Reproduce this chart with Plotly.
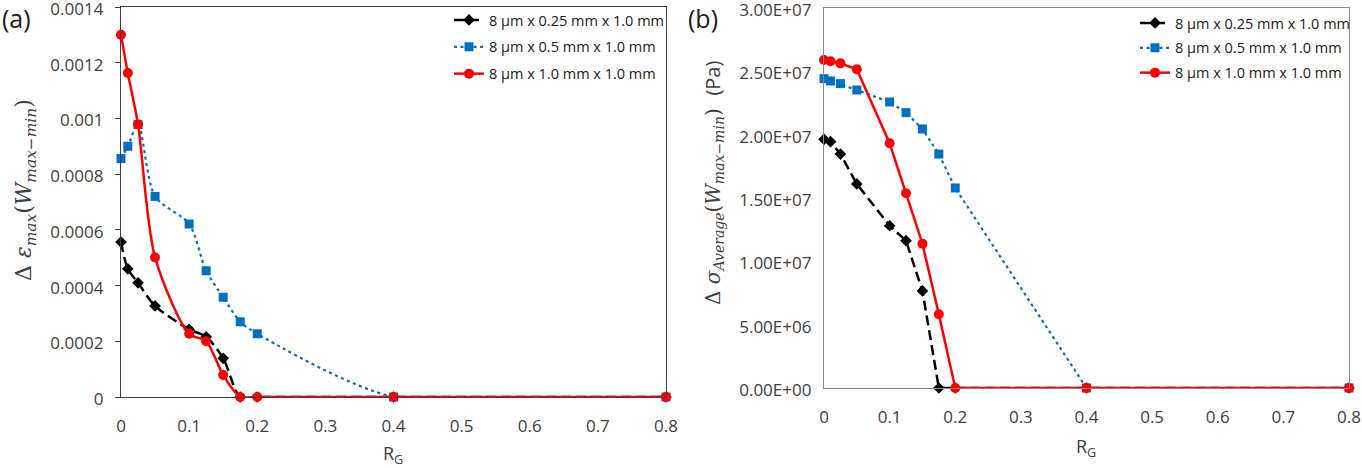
import plotly.graph_objects as go

# ---------------- data ----------------
rg = [0, 0.01, 0.025, 0.05, 0.1, 0.125, 0.15, 0.175, 0.2, 0.4, 0.8]

series_names = ["8 µm x 0.25 mm x 1.0 mm", "8 µm x 0.5 mm x 1.0 mm", "8 µm x 1.0 mm x 1.0 mm"]

# panel (a): delta strain max
eps_025 = [0.000556, 0.00046, 0.00041, 0.000327, 0.000243, 0.000216, 0.000139, 0.0, 0.0, 0.0, 0.0]
eps_05 = [0.000856, 0.0009, 0.000978, 0.00072, 0.000621, 0.000453, 0.000358, 0.00027, 0.000227, 0.0, 0.0]
eps_10 = [0.0013, 0.001163, 0.000978, 0.000501, 0.000227, 0.0002, 0.000079, 0.0, 0.0, 0.0, 0.0]

# panel (b): delta average stress (Pa)
sig_025 = [1.963e7, 1.945e7, 1.847e7, 1.611e7, 1.281e7, 1.163e7, 7.66e6, 0.0, 0.0, 0.0, 0.0]
sig_05 = [2.442e7, 2.424e7, 2.403e7, 2.353e7, 2.258e7, 2.174e7, 2.045e7, 1.847e7, 1.579e7, 0.0, 0.0]
sig_10 = [2.589e7, 2.579e7, 2.563e7, 2.516e7, 1.932e7, 1.537e7, 1.139e7, 5.82e6, 0.0, 0.0, 0.0]

x_ticks = [0, 0.1, 0.2, 0.3, 0.4, 0.5, 0.6, 0.7, 0.8]
x_ticklabels = ["0", "0.1", "0.2", "0.3", "0.4", "0.5", "0.6", "0.7", "0.8"]
ya_ticks = [0, 0.0002, 0.0004, 0.0006, 0.0008, 0.001, 0.0012, 0.0014]
ya_ticklabels = ["0", "0.0002", "0.0004", "0.0006", "0.0008", "0.001", "0.0012", "0.0014"]
yb_ticks = [0, 5e6, 1e7, 1.5e7, 2e7, 2.5e7, 3e7]
yb_ticklabels = ["0.00E+00", "5.00E+06", "1.00E+07", "1.50E+07", "2.00E+07", "2.50E+07", "3.00E+07"]

# ---------------- styles ----------------
colors = ["#000000", "#0070C0", "#FF0000"]
dashes = ["10px,5px", "3px,3.5px", "solid"]
symbols = ["diamond", "square", "circle"]
msizes = [9, 9, 10]
lwidths = [2.5, 2.2, 2.5]
FONT = "Open Sans"

fig = go.Figure()

for i, ys in enumerate([eps_025, eps_05, eps_10]):
    fig.add_trace(go.Scatter(
        x=rg, y=ys, name=series_names[i], mode="lines+markers", legendgroup="a%d" % i,
        line=dict(color=colors[i], dash=dashes[i], width=lwidths[i], shape="spline", smoothing=0.8),
        marker=dict(symbol=symbols[i], size=msizes[i], color=colors[i]),
        xaxis="x", yaxis="y", legend="legend", cliponaxis=False))

for i, ys in enumerate([sig_025, sig_05, sig_10]):
    fig.add_trace(go.Scatter(
        x=rg, y=ys, name=series_names[i], mode="lines+markers", legendgroup="b%d" % i,
        line=dict(color=colors[i], dash=dashes[i], width=lwidths[i]),
        marker=dict(symbol=symbols[i], size=msizes[i], color=colors[i]),
        xaxis="x2", yaxis="y2", legend="legend2", cliponaxis=False))

H = 468.0
W = 1362.0
ax_common = dict(showgrid=False, zeroline=False, mirror=True, showline=True, automargin=False,
                 ticklabeloverflow="allow",
                 tickfont=dict(family=FONT, size=17, color="#404040"))

fig.update_layout(
    width=1362, height=468,
    margin=dict(l=0, r=0, t=0, b=0, autoexpand=False),
    paper_bgcolor="white", plot_bgcolor="white",
    font=dict(family=FONT, color="#404040"),
    xaxis=dict(domain=[121 / W, 666 / W], range=[0, 0.8], tickvals=x_ticks, ticktext=x_ticklabels,
               linecolor="#404040", linewidth=1.3, ticks="", anchor="y", ticklabelstandoff=13, **ax_common),
    yaxis=dict(domain=[1 - 397 / H, 1 - 7 / H], range=[0, 0.0014], tickvals=ya_ticks, ticktext=ya_ticklabels,
               linecolor="#404040", linewidth=1.3, ticks="outside", ticklen=5, tickcolor="#404040",
               anchor="x", ticklabelstandoff=8, ticklabelshift=2, **ax_common),
    xaxis2=dict(domain=[824 / W, 1349 / W], range=[0, 0.8], tickvals=x_ticks, ticktext=x_ticklabels,
                linecolor="#8a8a8a", linewidth=1.3, ticks="", anchor="y2", ticklabelstandoff=13, **ax_common),
    yaxis2=dict(domain=[1 - 388 / H, 1 - 8 / H], range=[0, 3e7], tickvals=yb_ticks, ticktext=yb_ticklabels,
                linecolor="#8a8a8a", linewidth=1.3, ticks="", anchor="x2", ticklabelstandoff=8,
                ticklabelshift=2, **ax_common),
    legend=dict(x=449 / W, y=1 - 4 / H, xanchor="left", yanchor="top", bgcolor="rgba(0,0,0,0)",
                font=dict(family=FONT, size=14.5, color="#202020"), tracegroupgap=5, itemwidth=30),
    legend2=dict(x=1135 / W, y=1 - 7 / H, xanchor="left", yanchor="top", bgcolor="rgba(0,0,0,0)",
                 font=dict(family=FONT, size=14.5, color="#202020"), tracegroupgap=3, itemwidth=30),
    showlegend=True,
)

annotations = [
    dict(text="(a)", x=0 / W, y=1 - 18 / H, xanchor="left", yanchor="middle",
         font=dict(family=FONT, size=25, color="#202020")),
    dict(text="(b)", x=686 / W, y=1 - 18 / H, xanchor="left", yanchor="middle",
         font=dict(family=FONT, size=25, color="#202020")),
    dict(text="R<sub>G</sub>", x=393 / W, y=1 - 454 / H, xanchor="center", yanchor="middle",
         font=dict(family=FONT, size=18, color="#404040")),
    dict(text="R<sub>G</sub>", x=1086 / W, y=1 - 447 / H, xanchor="center", yanchor="middle",
         font=dict(family=FONT, size=18, color="#404040")),
    dict(text="Δ <i>ε</i><sub><i>max</i></sub>(<i>W</i><sub><i>max−min</i></sub>)",
         x=25 / W, y=1 - 190 / H, xanchor="center", yanchor="middle", textangle=-90,
         font=dict(family="DejaVu Serif", size=22, color="#404040")),
    dict(text="Δ <i>σ</i><sub><i>Average</i></sub>(<i>W</i><sub><i>max−min</i></sub>)  <span style='font-family:Open Sans'>(Pa)</span>",
         x=713 / W, y=1 - 183 / H, xanchor="center", yanchor="middle", textangle=-90,
         font=dict(family="DejaVu Serif", size=20, color="#404040")),
]
for a in annotations:
    a.update(xref="paper", yref="paper", showarrow=False)
fig.update_layout(annotations=annotations)

fig.write_html("out.html", config={"displayModeBar": False},
               post_script="document.body.style.margin='0px';")
